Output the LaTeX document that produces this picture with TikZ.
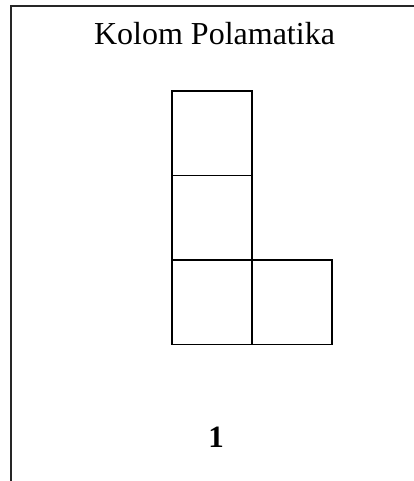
\documentclass[tikz,border=0pt]{standalone}
\usepackage{fontspec}
\setmainfont{Liberation Serif}
\usetikzlibrary{positioning}
\tikzset{
  % one cell of the column
  cell/.style={rectangle,draw=black,line width=1.7pt,outer sep=0pt,
    inner sep=0pt,minimum width=80pt,minimum height=84.5pt},
  % frame lines
  frm/.style={line width=1.4pt,color=black!85},
  % texts
  ttl/.style={font=\fontsize{32}{38}\selectfont,anchor=base},
  num/.style={font=\fontsize{31}{37}\selectfont\bfseries,anchor=base},
}

\begin{document}
\begin{tikzpicture}[x=1pt,y=-1pt]
  \useasboundingbox (0,0) rectangle (414,481);
  \coordinate (tl) at (11,6);
  \coordinate (tr) at (414,6);
  \coordinate (bl) at (11,481);
  \draw[frm] (tr) -- (tl) -- (bl);

  \node[ttl] (title) at (214.5,45) {Kolom Polamatika};

  \node[cell,anchor=north west] (c1) at (172,91) {};
  \node[cell,below=0pt of c1] (c2) {};
  \node[cell,below=0pt of c2] (c3) {};
  \node[cell,right=0pt of c3] (c4) {};

  \node[num] (n) at (216,447) {1};
\end{tikzpicture}
\end{document}
